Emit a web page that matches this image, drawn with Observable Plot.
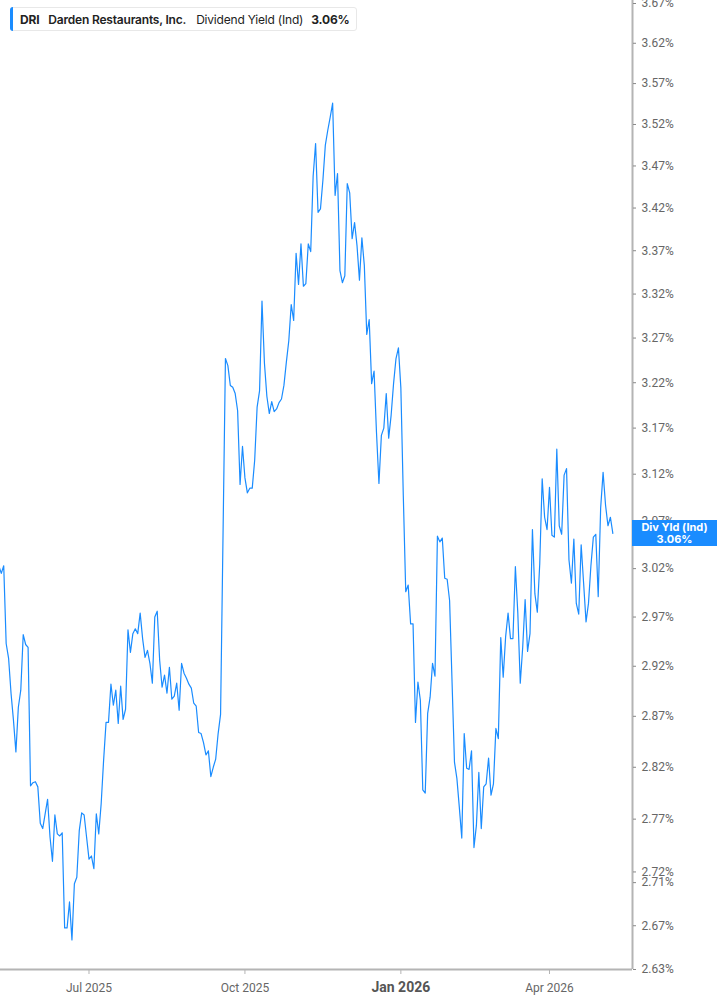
<!DOCTYPE html>
<html>
<head>
<meta charset="utf-8">
<script src="https://cdn.jsdelivr.net/npm/d3@7"></script>
<script src="https://cdn.jsdelivr.net/npm/@observablehq/plot@0.6"></script>
<style>
  html, body { margin: 0; padding: 0; background: #fff; }
  #wrap { position: relative; width: 717px; height: 1005px; overflow: hidden; font-family: Inter, "Noto Sans", sans-serif; }
  #legend { position: absolute; left: 10px; top: 7px; height: 24px; padding: 0 6px 0 9px; display: flex; align-items: center; background: #fff; border: 1px solid #e8e8e8; border-radius: 3px; font-size: 12px; letter-spacing: -0.2px; color: #222; white-space: nowrap; box-sizing: border-box; }
  #legend::before { content: ""; position: absolute; left: -1px; top: -1px; bottom: -1px; width: 3px; background: #1a8cff; border-radius: 3px 0 0 3px; }
  #legend .sym { font-weight: 700; margin-right: 9px; }
  #legend .name { font-weight: 600; margin-right: 10px; }
  #legend .fld { font-weight: 400; margin-right: 8px; }
  #legend .val { font-weight: 700; }
  #lastLabel { position: absolute; left: 632px; width: 85px; height: 26px; background: #1a8cff; color: #fff; font-family: Inter, "Noto Sans", sans-serif; font-weight: 700; font-size: 11px; line-height: 12px; text-align: center; display: flex; flex-direction: column; justify-content: center; }
</style>
</head>
<body>
<div id="wrap">
  <div id="chart"></div>
  <div id="legend"><span class="sym">DRI</span><span class="name">Darden Restaurants, Inc.</span><span class="fld">Dividend Yield (Ind)</span><span class="val">3.06%</span></div>
  <div id="lastLabel"><span>Div Yld (Ind)</span><span id="lastVal"></span></div>
</div>
<script>
// Trading-day index 0 = first session shown (mid May 2025)
const seg1Start = 0;
const seg1Yield = [3.023,3.015,3.023,2.943,2.928,2.893,2.866,2.835,2.879,2.896,2.952,2.942,2.939,2.802,2.805,2.806,2.801,2.766,2.761,2.775,2.789,2.753,2.730,2.774,2.756,2.754,2.757,2.668,2.668,2.692,2.657,2.709,2.715,2.759,2.776,2.774,2.753,2.732,2.735,2.723,2.775,2.756,2.785,2.827,2.864,2.864,2.902,2.881,2.896,2.863,2.900,2.867,2.877,2.957,2.934,2.953,2.958,2.953,2.974,2.948,2.929,2.936,2.923,2.903,2.970,2.976,2.926,2.899,2.911,2.893,2.919,2.887,2.890,2.903,2.876,2.923,2.913,2.908,2.902,2.898,2.883,2.880,2.854,2.853,2.844,2.832,2.836,2.811,2.820,2.828,2.853,2.872];
const seg2Start = 93;
const seg2Yield = [3.247,3.239,3.217,3.215,3.208,3.189,3.109,3.150,3.116,3.100,3.105,3.105,3.135,3.193,3.211,3.312,3.242,3.205,3.186,3.199,3.188,3.191,3.198,3.202,3.217,3.243,3.267,3.308,3.290,3.367,3.331,3.378,3.329,3.332,3.378,3.369,3.458,3.497,3.415,3.419,3.453,3.495,3.513,3.529,3.546,3.435,3.461,3.347,3.333,3.341,3.449,3.438,3.384,3.403,3.376,3.336,3.385,3.353,3.274,3.291,3.219,3.233,3.165,3.110,3.162,3.170,3.208,3.159,3.184,3.219,3.247,3.259,3.214,3.097,2.996,3.003,2.963,2.963,2.864,2.904,2.886,2.798,2.795,2.873,2.889,2.923,2.910,3.054,3.048,3.052,3.010,3.009,2.987];
const seg3Start = 187;
const seg3Yield = [2.825,2.809,2.781,2.752,2.853,2.819,2.818,2.836,2.743,2.764,2.815,2.761,2.801,2.804,2.829,2.793,2.804,2.858,2.848,2.949,2.909,2.950,2.974,2.948,2.948,3.022,2.974,2.903,2.939,2.988,2.935,2.953,3.061,2.994,2.975,3.025,3.115,3.074,3.061,3.106,3.055,3.053,3.147,3.065,3.056,3.119,3.126,3.029,3.005,3.051,2.984,2.973,3.045,3.005,2.965,2.984,3.023,3.053,3.056,2.991,3.084,3.122,3.087,3.065,3.074,3.057];

const monthTicks = [37, 101, 165, 226];
const monthLabels = ["Jul 2025", "Oct 2025", "Jan 2026", "Apr 2026"];
const yTicks = [2.63,2.67,2.71,2.72,2.77,2.82,2.87,2.92,2.97,3.02,3.07,3.12,3.17,3.22,3.27,3.32,3.37,3.42,3.47,3.52,3.57,3.62,3.67];

const data = [];
[[seg1Start, seg1Yield], [seg2Start, seg2Yield], [seg3Start, seg3Yield]].forEach(([s, arr]) => {
  arr.forEach((v, i) => data.push({day: s + i, v}));
});

const blue = "#1a8cff";
const grey = "#b4b4b4";
const labelColor = "#666";
const xDomain = [0.677, 260.07];
const yDomain = [2.63, 3.6738];

const chart = Plot.plot({
  width: 717,
  height: 1005,
  marginLeft: 0,
  marginRight: 85,
  marginTop: 0,
  marginBottom: 36,
  style: {fontFamily: "Roboto, sans-serif", background: "transparent"},
  x: {type: "linear", domain: xDomain, axis: null},
  y: {type: "log", domain: yDomain, axis: null},
  marks: [
    Plot.ruleY([yDomain[0]], {stroke: grey, strokeWidth: 2}),
    Plot.ruleX([xDomain[1]], {stroke: grey, strokeWidth: 2}),
    Plot.line(data, {x: "day", y: "v", stroke: blue, strokeWidth: 1.2, clip: true}),
    Plot.axisY(yTicks, {anchor: "right", label: null, tickSize: 3, tickPadding: 6, tickFormat: d => d.toFixed(2) + "%", fontSize: 12, color: labelColor, stroke: "#888"}),
    Plot.axisX(monthTicks.filter((d, i) => i !== 2), {anchor: "bottom", label: null, tickSize: 5, tickPadding: 9, tickFormat: d => monthLabels[monthTicks.indexOf(d)], fontSize: 12, color: labelColor, stroke: grey}),
    Plot.axisX([monthTicks[2]], {anchor: "bottom", label: null, tickSize: 5, tickPadding: 8, tickFormat: d => monthLabels[2], fontSize: 14, fontWeight: "bold", fill: "#555", stroke: grey})
  ]
});
document.getElementById("chart").appendChild(chart);

const last = data[data.length - 1];
const yPix = chart.scale("y").apply(last.v);
const lbl = document.getElementById("lastLabel");
lbl.style.top = (yPix - 13) + "px";
document.getElementById("lastVal").textContent = last.v.toFixed(2) + "%";
</script>
</body>
</html>
